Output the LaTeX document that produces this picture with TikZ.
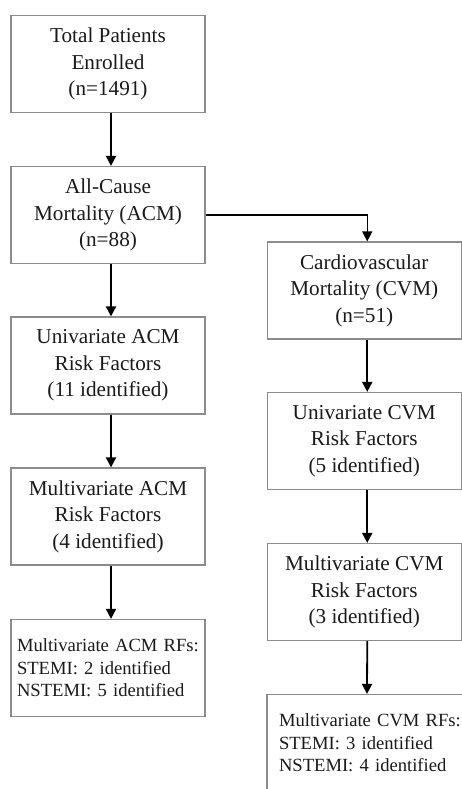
\documentclass[tikz,border=0pt]{standalone}
\usepackage{fontspec}
\setmainfont{Liberation Serif}
\usepackage{tikz}
\usetikzlibrary{arrows.meta}
\definecolor{boxgray}{HTML}{8C8C8C}
\definecolor{inkdrk}{HTML}{1A1A1A}
\tikzstyle{flowbox} = [draw=boxgray, line width=1.2pt, text=inkdrk,
    rectangle, minimum width=194pt, minimum height=97pt, inner sep=0pt,
    align=center, font=\fontsize{21.2}{26.5}\selectfont]
\tikzstyle{listbox} = [draw=boxgray, line width=1.2pt, text=inkdrk,
    rectangle, minimum height=97pt, inner ysep=0pt, text width=182pt,
    align=left, font=\fontsize{18.6}{22.5}\selectfont]
\tikzstyle{flowarrow} = [draw=black, line width=1.8pt,
    -{Triangle[width=10pt,length=10pt]}]

\begin{document}
\begin{tikzpicture}[x=1pt,y=-1pt]

	\useasboundingbox (0,0) rectangle (462,789);
	\clip (0,0) rectangle (462,789);
	\fill[white] (0,0) rectangle (462,789);

	% left column, all-cause
	\node [flowbox] at (108, 64) (total) {Total Patients\\Enrolled\\(n=1491)};
	\node [flowbox] at (108, 215) (acm) {All-Cause\\Mortality (ACM)\\(n=88)};
	\node [flowbox] at (108, 365.5) (uniacm) {Univariate ACM\\Risk Factors\\(11 identified)};
	\node [flowbox] at (108, 516.5) (multiacm) {Multivariate ACM\\Risk Factors\\(4 identified)};
	\node [listbox, inner xsep=6pt] at (108, 668) (acmrf) {Multivariate ACM RFs:\\STEMI: 2 identified\\NSTEMI: 5 identified};

	% right column, cardiovascular
	\node [flowbox] at (364.25, 290.5) (cvm) {Cardiovascular\\Mortality (CVM)\\(n=51)};
	\node [flowbox] at (364.25, 441) (unicvm) {Univariate CVM\\Risk Factors\\(5 identified)};
	\node [flowbox] at (364.25, 592) (multicvm) {Multivariate CVM\\Risk Factors\\(3 identified)};
	\node [listbox, inner xsep=12pt] at (370, 743) (cvmrf) {Multivariate CVM RFs:\\STEMI: 3 identified\\NSTEMI: 4 identified};

	% arrows
	\draw[flowarrow] ([xshift=3pt]total.south) -- ([xshift=3pt]acm.north);
	\draw[flowarrow] ([xshift=3pt]acm.south) -- ([xshift=3pt]uniacm.north);
	\draw[flowarrow] ([xshift=3pt]uniacm.south) -- ([xshift=3pt]multiacm.north);
	\draw[flowarrow] ([xshift=3pt]multiacm.south) -- ([xshift=3pt]acmrf.north);

	\draw[flowarrow, line width=1.4pt] (acm.east) -| ([xshift=3pt]cvm.north);
	\draw[flowarrow] ([xshift=3pt]cvm.south) -- ([xshift=3pt]unicvm.north);
	\draw[flowarrow] ([xshift=3pt]unicvm.south) -- ([xshift=3pt]multicvm.north);
	\draw[flowarrow] ([xshift=3pt]multicvm.south) -- ([xshift=-3pt]cvmrf.north);

\end{tikzpicture}
\end{document}
